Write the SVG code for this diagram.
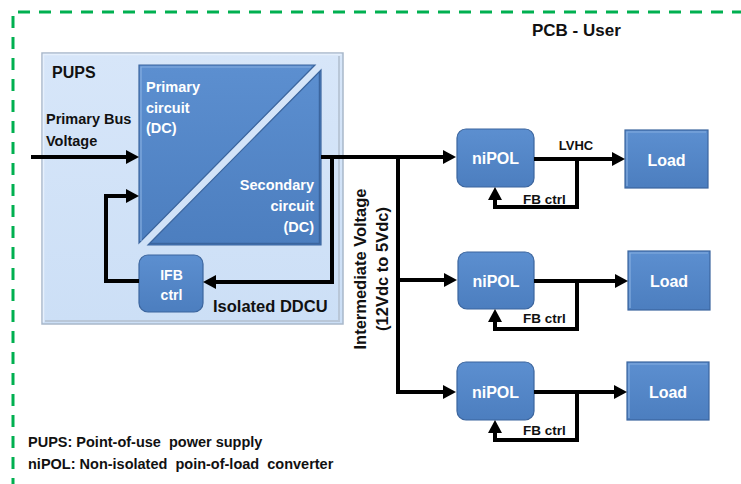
<svg xmlns="http://www.w3.org/2000/svg" width="741" height="484" viewBox="0 0 741 484">
  <style>
    .lbl { font-family: "Liberation Sans", Arial, sans-serif; font-weight: bold; fill: #111; }
    .wht { font-family: "Liberation Sans", Arial, sans-serif; font-weight: bold; fill: #fff; }
    .wire { fill: none; stroke: #000; stroke-width: 4; stroke-linejoin: miter; }
    .arrow { marker-end: url(#head); }
    .blue { fill: url(#blueGrad); stroke: #3B659E; stroke-width: 1.2; }
    .hi { fill: none; stroke: #86AEE0; stroke-width: 1.2; }
  </style>
  <defs>
    <linearGradient id="blueGrad" x1="0" y1="0" x2="0" y2="1">
      <stop offset="0" stop-color="#5C8FD0"/>
      <stop offset="1" stop-color="#4C7EBF"/>
    </linearGradient>
    <linearGradient id="pupsGrad" x1="0" y1="0" x2="0" y2="1">
      <stop offset="0" stop-color="#D7E6F9"/>
      <stop offset="1" stop-color="#CCDFF6"/>
    </linearGradient>
    <marker id="head" viewBox="0 0 13 14" refX="5" refY="7" markerWidth="13" markerHeight="14" markerUnits="userSpaceOnUse" orient="auto">
      <path d="M0,0 L13,7 L0,14 Z" fill="#000"/>
    </marker>
  </defs>

  <rect width="741" height="484" fill="#fff"/>

  <!-- board outline -->
  <path d="M13,490 V12 H745" fill="none" stroke="#00B050" stroke-width="3" stroke-dasharray="12 9"/>
  <text class="lbl" x="532" y="36" font-size="17">PCB - User</text>

  <!-- point-of-use power supply container -->
  <g id="pups">
    <rect x="42" y="53" width="301" height="271" fill="url(#pupsGrad)" stroke="#A9B8CA" stroke-width="1.5"/>
    <path d="M43.5,322.5 V54.5 H341.5" fill="none" stroke="#E6F0FC" stroke-width="1.5"/>
    <path d="M339,56 V321 H45" fill="none" stroke="#B9C7D8" stroke-width="2"/>
    <text class="lbl" x="52" y="77.5" font-size="16">PUPS</text>
    <text class="lbl" x="213" y="311.5" font-size="16.5">Isolated DDCU</text>
  </g>

  <!-- isolated converter: primary / secondary halves -->
  <g id="converter">
    <path class="blue" d="M139,65 H315 L139,243 Z"/>
    <path class="hi" d="M141,241 V67 H311"/>
    <path class="blue" d="M321,70 V245 H148 Z"/>
    <path d="M150,243.5 H319.5 V72" fill="none" stroke="#3B659E" stroke-width="1.5"/>
    <text class="wht" font-size="14.5"><tspan x="146" y="92">Primary</tspan><tspan x="146" y="112.5">circuit</tspan><tspan x="146" y="133">(DC)</tspan></text>
    <text class="wht" font-size="14.5" text-anchor="end"><tspan x="314" y="190">Secondary</tspan><tspan x="314" y="211">circuit</tspan><tspan x="314" y="232">(DC)</tspan></text>
  </g>

  <g id="ifb">
    <rect class="blue" x="139" y="255" width="64" height="57" rx="9"/>
    <text class="wht" font-size="14" text-anchor="middle"><tspan x="171.5" y="280">IFB</tspan><tspan x="171.5" y="300">ctrl</tspan></text>
  </g>

  <g id="nipol1">
    <rect class="blue" x="457" y="129" width="77" height="58" rx="9"/>
    <text class="wht" x="495.5" y="164" font-size="16" text-anchor="middle">niPOL</text>
  </g>
  <g id="nipol2">
    <rect class="blue" x="458" y="252" width="76" height="57" rx="9"/>
    <text class="wht" x="496" y="286.5" font-size="16" text-anchor="middle">niPOL</text>
  </g>
  <g id="nipol3">
    <rect class="blue" x="457" y="362" width="77" height="58" rx="9"/>
    <text class="wht" x="495.5" y="397.5" font-size="16" text-anchor="middle">niPOL</text>
  </g>

  <g id="load1">
    <rect class="blue" x="625" y="130" width="83" height="58"/>
    <path class="hi" d="M627,186 V132 H706"/>
    <text class="wht" x="666.5" y="165.5" font-size="16" text-anchor="middle">Load</text>
  </g>
  <g id="load2">
    <rect class="blue" x="628" y="251" width="82" height="59"/>
    <path class="hi" d="M630,308 V253 H708"/>
    <text class="wht" x="669" y="287" font-size="16" text-anchor="middle">Load</text>
  </g>
  <g id="load3">
    <rect class="blue" x="627" y="362" width="82" height="58"/>
    <path class="hi" d="M629,418 V364 H707"/>
    <text class="wht" x="668" y="397.5" font-size="16" text-anchor="middle">Load</text>
  </g>

  <!-- connectors -->
  <g id="connectors">
    <path class="wire arrow" d="M31,157 H131"/>
    <path class="wire arrow" d="M139,281 H106 V196 H131"/>
    <path class="wire arrow" d="M321,157 H448"/>
    <path class="wire arrow" d="M332,157 V282 H211"/>
    <path class="wire" d="M398,157 V392"/>
    <path class="wire arrow" d="M396,280 H449"/>
    <path class="wire arrow" d="M396,392 H448"/>

    <path class="wire arrow" d="M534,159 H617"/>
    <path class="wire arrow" d="M577,159 V207 H495 V195"/>
    <path class="wire arrow" d="M534,281 H620"/>
    <path class="wire arrow" d="M577,281 V329 H495 V317"/>
    <path class="wire arrow" d="M534,392 H619"/>
    <path class="wire arrow" d="M577,392 V440 H495 V428"/>
  </g>

  <!-- connector labels -->
  <g id="labels">
    <text class="lbl" font-size="14.5"><tspan x="46" y="124">Primary Bus</tspan><tspan x="46" y="145.5">Voltage</tspan></text>
    <text class="lbl" font-size="16.5" text-anchor="middle" transform="translate(366,269) rotate(-90)">Intermediate Voltage</text>
    <text class="lbl" font-size="16.5" text-anchor="middle" transform="translate(388,269) rotate(-90)">(12Vdc to 5Vdc)</text>
    <text class="lbl" x="576" y="150" font-size="13" text-anchor="middle">LVHC</text>
    <text class="lbl" x="544.5" y="204" font-size="13.5" text-anchor="middle">FB ctrl</text>
    <text class="lbl" x="544.5" y="323" font-size="13.5" text-anchor="middle">FB ctrl</text>
    <text class="lbl" x="544.5" y="435" font-size="13.5" text-anchor="middle">FB ctrl</text>
  </g>

  <!-- legend -->
  <g id="legend">
    <text class="lbl" x="28" y="447" font-size="14.5">PUPS: Point-of-use&#160; power supply</text>
    <text class="lbl" x="28" y="469" font-size="14.5">niPOL: Non-isolated&#160; poin-of-load&#160; converter</text>
  </g>
</svg>
